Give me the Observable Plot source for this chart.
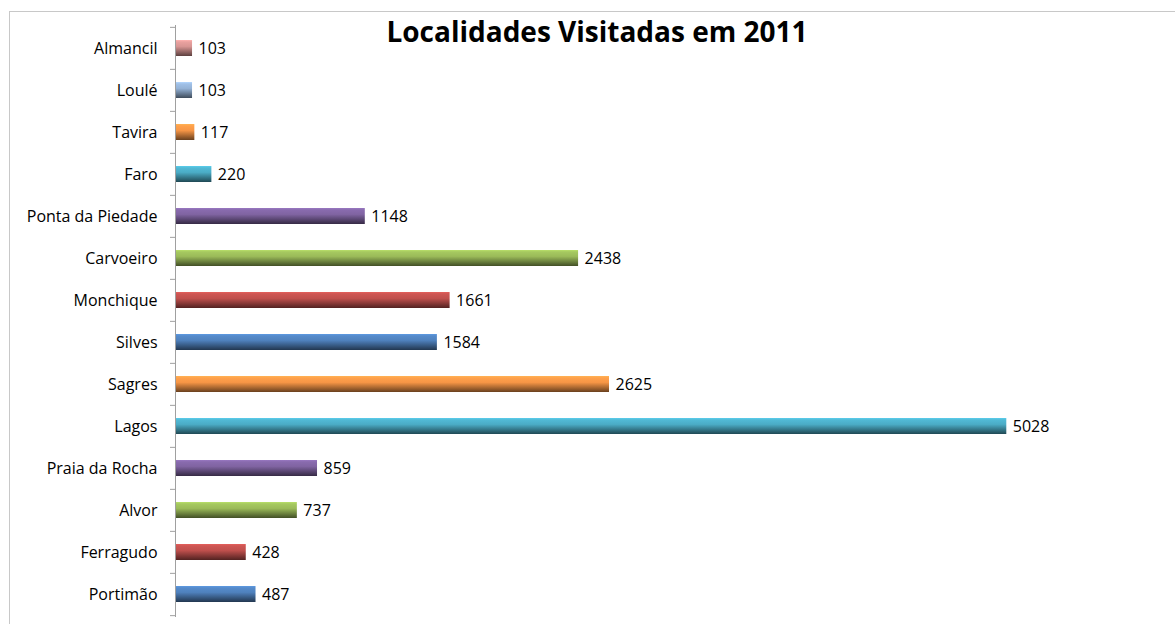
<!DOCTYPE html>
<html>
<head>
<meta charset="utf-8">
<script src="https://cdn.jsdelivr.net/npm/d3@7"></script>
<script src="https://cdn.jsdelivr.net/npm/@observablehq/plot@0.6"></script>
<style>
  html, body { margin: 0; padding: 0; background: #fff; }
  #wrap { position: relative; width: 1175px; height: 624px; overflow: hidden; font-family: "Open Sans", sans-serif; }
  #frame { position: absolute; left: 9px; top: 11px; width: 1200px; height: 700px; border-top: 1px solid #c8c8c8; border-left: 1px solid #c8c8c8; }
  #title { position: absolute; left: 0; width: 1194px; top: 12px; text-align: center; font-weight: 700; font-size: 28px; color: #000; }
  #chart { position: absolute; left: 0; top: 0; }
</style>
</head>
<body>
<div id="wrap">
  <div id="frame"></div>
  <div id="chart"></div>
  <div id="title">Localidades Visitadas em 2011</div>
</div>
<script>
const localidades = ["Almancil","Loulé","Tavira","Faro","Ponta da Piedade","Carvoeiro","Monchique","Silves","Sagres","Lagos","Praia da Rocha","Alvor","Ferragudo","Portimão"];
const visitas = [103,103,117,220,1148,2438,1661,1584,2625,5028,859,737,428,487];
const cores = ["#D99694","#95B3D7","#F79646","#4BACC6","#8064A2","#9BBB59","#C0504D","#4F81BD","#F79646","#4BACC6","#8064A2","#9BBB59","#C0504D","#4F81BD"];

const data = localidades.map((nome, i) => ({nome, valor: visitas[i], grad: `url(#grad${i})`}));

const W = 1175, H = 624, mt = 25, mb = 7;
const step = (H - mt - mb) / localidades.length;

const plot = Plot.plot({
  width: W,
  height: H,
  marginLeft: 175,
  marginRight: 8,
  marginTop: mt,
  marginBottom: mb,
  style: {fontFamily: "'Open Sans', sans-serif", fontSize: "16px", color: "#000", background: "transparent"},
  x: {domain: [0, 6000], axis: null},
  y: {domain: localidades, paddingInner: 0.62, paddingOuter: 0.31, tickSize: 0, tickPadding: 18, label: null},
  color: {type: "identity"},
  marks: [
    Plot.barX(data, {y: "nome", x: "valor", fill: "grad"}),
    Plot.text(data, {y: "nome", x: "valor", text: d => String(d.valor), textAnchor: "start", dx: 6, fill: "#000", fontSize: 16}),
    Plot.ruleX([0], {stroke: "#a0a0a0"}),
    Plot.ruleY(localidades, {y: d => d, x1: 0, x2: 0, insetLeft: -5, dy: -step / 2, stroke: "#a0a0a0"}),
    Plot.ruleY(localidades.slice(-1), {y: d => d, x1: 0, x2: 0, insetLeft: -5, dy: step / 2, stroke: "#a0a0a0"})
  ]
});

// gradient definitions (cylinder-like shading)
const svg = d3.select(plot);
const defs = svg.insert("defs", ":first-child");
cores.forEach((c, i) => {
  const g = defs.append("linearGradient").attr("id", `grad${i}`).attr("x1", 0).attr("y1", 0).attr("x2", 0).attr("y2", 1);
  g.append("stop").attr("offset", "0%").attr("stop-color", d3.color(c).brighter(0.5));
  g.append("stop").attr("offset", "12%").attr("stop-color", d3.color(c).brighter(0.2));
  g.append("stop").attr("offset", "40%").attr("stop-color", c);
  g.append("stop").attr("offset", "100%").attr("stop-color", d3.color(c).darker(2.4));
});

document.getElementById("chart").appendChild(plot);
</script>
</body>
</html>
